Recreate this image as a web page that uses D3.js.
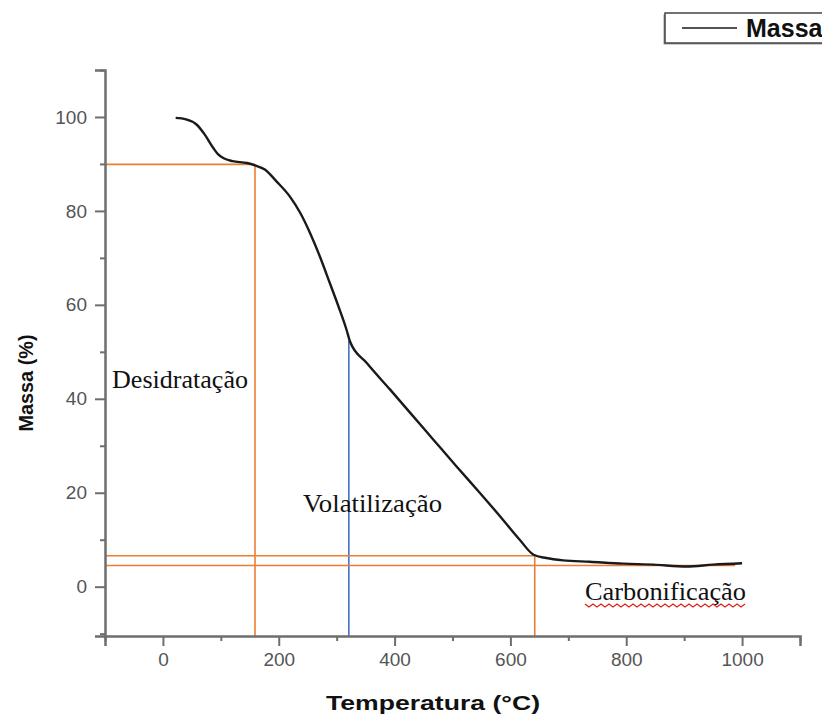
<!DOCTYPE html>
<html>
<head>
<meta charset="utf-8">
<script src="https://cdn.jsdelivr.net/npm/d3@7"></script>
<style>
  html, body { margin: 0; padding: 0; background: #fff; }
  svg { display: block; }
</style>
</head>
<body>
<svg id="chart" width="822" height="717"></svg>
<script>
// Thermogravimetric curve: temperature (°C) and remaining mass (%)
const temperatura = [22, 40, 58, 72, 87, 95, 105, 120, 145, 159, 176, 196, 219, 237, 254, 271, 288,
  303, 317, 323, 352, 392, 427, 467, 507, 547, 582, 616, 640, 662, 691, 737, 795, 847, 904, 950, 1000];
const massa = [99.8, 99.5, 98.4, 96.3, 93.4, 92.1, 91.2, 90.6, 90.2, 89.7, 88.8, 86.3, 83.1, 79.6, 75.3, 70.3, 64.7,
  59.7, 54.7, 52.2, 47.6, 42, 37, 31.3, 25.6, 20, 15, 10, 6.8, 6.1, 5.6, 5.3, 4.9, 4.7, 4.3, 4.7, 5.0];

// Stage boundaries
const fimDesidratacao = { t: 159, m: 89.9 };
const fimVolatilizacaoRapida = { t: 321, m: 52.4 };
const inicioCarbonificacao = { t: 642, m: 6.6 };
const residuoFinal = { t: 988, m: 4.5 };

// Axis ticks
const xMajor = [0, 200, 400, 600, 800, 1000];
const xMinor = [-100, 100, 300, 500, 700, 900, 1100];
const yMajor = [0, 20, 40, 60, 80, 100];
const yMinor = [-10, 10, 30, 50, 70, 90, 110];

const etapas = ["Desidratação", "Volatilização", "Carbonificação"];

const svg = d3.select("#chart");
const x = d3.scaleLinear().domain([-100, 1100]).range([105, 800]);
const y = d3.scaleLinear().domain([-10.5, 110]).range([636, 70]);

const axisColor = "#6e6e6e";
const tickFont = "Liberation Sans, Arial, sans-serif";

// Reference lines (drawn under the curve)
const orange = "#ED7D31", blue = "#4472C4";
const ref = svg.append("g").attr("fill", "none").attr("stroke-width", 1.6);
const seg = (x1, y1, x2, y2, c) => ref.append("line")
  .attr("x1", x(x1)).attr("y1", y(y1)).attr("x2", x(x2)).attr("y2", y(y2)).attr("stroke", c);
seg(-100, fimDesidratacao.m, fimDesidratacao.t, fimDesidratacao.m, orange);
seg(fimDesidratacao.t, fimDesidratacao.m, fimDesidratacao.t, -10.5, orange);
seg(fimVolatilizacaoRapida.t, fimVolatilizacaoRapida.m, fimVolatilizacaoRapida.t, -10.5, blue);
seg(-100, inicioCarbonificacao.m, inicioCarbonificacao.t, inicioCarbonificacao.m, orange);
seg(inicioCarbonificacao.t, inicioCarbonificacao.m, inicioCarbonificacao.t, -10.5, orange);
seg(-100, residuoFinal.m, residuoFinal.t, residuoFinal.m, orange);

// Y axis
const yAxisMajor = svg.append("g").attr("transform", `translate(${x(-100)},0)`)
  .call(d3.axisLeft(y).tickValues(yMajor).tickSize(10).tickPadding(8).tickFormat(d3.format("d")));
const yAxisMinor = svg.append("g").attr("transform", `translate(${x(-100)},0)`)
  .call(d3.axisLeft(y).tickValues(yMinor).tickSize(5).tickFormat(""));
// X axis
const xAxisMajor = svg.append("g").attr("transform", `translate(0,${y(-10.5)})`)
  .call(d3.axisBottom(x).tickValues(xMajor).tickSize(10).tickPadding(7).tickFormat(d3.format("d")));
const xAxisMinor = svg.append("g").attr("transform", `translate(0,${y(-10.5)})`)
  .call(d3.axisBottom(x).tickValues(xMinor).tickSize(5).tickFormat(""));

[yAxisMajor, yAxisMinor, xAxisMajor, xAxisMinor].forEach(g => {
  g.selectAll(".domain").attr("stroke", axisColor).attr("stroke-width", 2.5);
  g.selectAll(".tick line").attr("stroke", axisColor).attr("stroke-width", 2);
  g.selectAll(".tick text").attr("fill", "#555").style("font-family", tickFont).style("font-size", "19px");
});
[yAxisMinor, xAxisMinor].forEach(g => g.select(".domain").remove());

// Curve
const line = d3.line().x((d, i) => x(temperatura[i])).y((d, i) => y(massa[i])).curve(d3.curveMonotoneX);
svg.append("path").datum(massa).attr("d", line)
  .attr("fill", "none").attr("stroke", "#1a1a1a").attr("stroke-width", 2.4).attr("stroke-linejoin", "round");

// Axis titles
svg.append("text").text("Temperatura (°C)")
  .attr("x", 433).attr("y", 710).attr("text-anchor", "middle")
  .attr("textLength", 214).attr("lengthAdjust", "spacingAndGlyphs")
  .style("font-family", tickFont).style("font-weight", "bold").style("font-size", "21px").attr("fill", "#111");
svg.append("text").text("Massa (%)")
  .attr("transform", "translate(33,383) rotate(-90)").attr("text-anchor", "middle")
  .attr("textLength", 97).attr("lengthAdjust", "spacingAndGlyphs")
  .style("font-family", tickFont).style("font-weight", "bold").style("font-size", "20px").attr("fill", "#111");

// Stage labels
const serif = "Liberation Serif, 'Times New Roman', serif";
const rotulos = [
  { txt: etapas[0], x: 112, y: 388, w: 136 },
  { txt: etapas[1], x: 303, y: 512, w: 139 },
  { txt: etapas[2], x: 585, y: 600, w: 161 }
];
rotulos.forEach(r => svg.append("text").text(r.txt)
  .attr("x", r.x).attr("y", r.y).attr("textLength", r.w).attr("lengthAdjust", "spacingAndGlyphs")
  .style("font-family", serif).style("font-size", "25px").attr("fill", "#111"));

// Wavy underline beneath the last label
const wave = d3.range(0, 41).map(i => [585 + i * 4, 605 + (i % 2 ? 2 : -1)]);
svg.append("path").attr("d", d3.line()(wave)).attr("fill", "none").attr("stroke", "#e0201a").attr("stroke-width", 1.3);

// Legend
const leg = svg.append("g");
leg.append("rect").attr("x", 663.5).attr("y", 14.5).attr("width", 200).attr("height", 30)
  .attr("fill", "#999");
leg.append("rect").attr("x", 665).attr("y", 13).attr("width", 200).attr("height", 30)
  .attr("fill", "#fff").attr("stroke", "#444").attr("stroke-width", 1.5);
leg.append("line").attr("x1", 682).attr("x2", 737).attr("y1", 28).attr("y2", 28)
  .attr("stroke", "#1a1a1a").attr("stroke-width", 1.6);
leg.append("text").text("Massa").attr("x", 746).attr("y", 37)
  .style("font-family", tickFont).style("font-weight", "bold").style("font-size", "25px").attr("fill", "#111");
</script>
</body>
</html>
